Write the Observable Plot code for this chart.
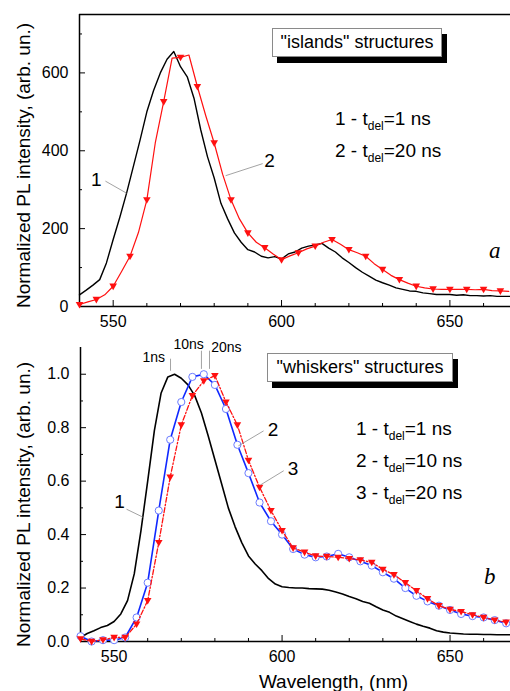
<!DOCTYPE html>
<html><head><meta charset="utf-8">
<script src="https://cdn.jsdelivr.net/npm/d3@7"></script>
<script src="https://cdn.jsdelivr.net/npm/@observablehq/plot@0.6"></script>
<style>
body{margin:0;background:#fff;font-family:"Liberation Sans",Arial,Helvetica,sans-serif;color:#000;}
#wrap{position:relative;width:510px;height:691px;overflow:hidden;background:#fff;}
#wrap svg{display:block;overflow:visible;}
.box{position:absolute;background:#fff;border:1px solid #8a8a8a;box-shadow:5px 6px 0 #000;font-size:18px;text-align:center;box-sizing:border-box;white-space:nowrap;}
.leg{position:absolute;font-size:19px;line-height:30px;white-space:nowrap;}
.leg .sb{font-size:12px;position:relative;top:5px;}
</style></head><body><div id="wrap"><div id="pa"></div><div id="pb"></div></div>
<script>
// ---------- panel a: "islands" ----------
const wlA1 = [540,542,544,546,548,550,552,554,556,558,560,562,564,566,568,570,572,574,576,578,580,582,584,586,588,590,592,594,596,598,600,602,604,606,608,610,612,614,616,618,620,622,624,626,628,630,632,634,636,638,640,642,644,646,648,650,652,654,656,658,660,662,664,666,668];
const intA1 = [30,42,55,69,112,172,230,292,360,428,500,555,600,635,655,616,590,535,454,385,330,265,225,189,165,146,140,129,125,128,122,135,140,150,155,158,162,150,140,125,113,100,88,78,68,61,55,48,44,40,39,35,33,31,31,31,29,30,28,28,27,28,26,26,26];
const wlA2 = [540,542.5,545,547.5,550,552.5,555,557.5,560,562.5,565,567.5,570,572.5,575,577.5,580,582.5,585,587.5,590,592.5,595,597.5,600,602.5,605,607.5,610,612.5,615,617.5,620,622.5,625,627.5,630,632.5,635,637.5,640,642.5,645,647.5,650,652.5,655,657.5,660,662.5,665,667.5];
const intA2 = [5,12,18,30,52,90,129,190,274,420,526,638,640,646,565,490,420,340,274,225,189,165,151,135,120,130,138,148,155,165,172,160,146,138,129,110,95,80,69,60,52,48,45,44,44,44,44,43,44,41,40,39];

// ---------- panel b: "whiskers" ----------
const wlB1 = [540,542,544,546,548,550,552,554,556,558,560,562,564,566,568,570,572,574,576,578,580,582,584,586,588,590,592,594,596,598,600,602,604,606,608,610,612,614,616,618,620,622,624,626,628,630,632,634,636,638,640,642,644,646,648,650,652,654,656,658,660,662,664,666,668];
const intB1 = [0.015,0.03,0.04,0.052,0.06,0.075,0.103,0.153,0.253,0.415,0.6,0.79,0.93,0.99,1.0,0.985,0.96,0.92,0.855,0.77,0.68,0.59,0.5,0.43,0.37,0.32,0.29,0.265,0.235,0.215,0.205,0.202,0.2,0.2,0.198,0.197,0.196,0.192,0.185,0.178,0.168,0.16,0.15,0.143,0.13,0.118,0.109,0.095,0.085,0.075,0.065,0.057,0.05,0.04,0.035,0.032,0.03,0.028,0.027,0.027,0.026,0.026,0.025,0.025,0.025];
const wlB23 = [540,543.3,546.7,550,553.3,556.7,560,563.3,566.7,570,573.3,576.7,580,583.3,586.7,590,593.3,596.7,600,603.3,606.7,610,613.3,616.7,620,623.3,626.7,630,633.3,636.7,640,643.3,646.7,650,653.3,656.7,660,663.3,666.7];
const intB2 = [0.02,0.0,0.005,0.005,0.015,0.09,0.22,0.49,0.755,0.896,0.99,1.0,0.96,0.87,0.736,0.63,0.52,0.45,0.40,0.346,0.325,0.315,0.318,0.328,0.315,0.30,0.284,0.259,0.235,0.2,0.171,0.15,0.134,0.118,0.103,0.095,0.09,0.08,0.068];
const intB3 = [0.01,0.0,0.006,0.015,0.015,0.065,0.153,0.37,0.615,0.81,0.92,0.975,0.995,0.896,0.81,0.678,0.577,0.49,0.415,0.35,0.334,0.32,0.318,0.315,0.31,0.305,0.296,0.27,0.25,0.22,0.19,0.16,0.134,0.12,0.112,0.1,0.09,0.08,0.072];

// ---------- ticks & texts ----------
const xDomain = [540, 668];
const xMajor = [550, 600, 650];
const xMinor = [560, 570, 580, 590, 610, 620, 630, 640, 660];
const yDomainA = [0, 750];
const yMajorA = [0, 200, 400, 600];
const yMinorA = [100, 300, 500, 700];
const yDomainB = [0, 1.1];
const yMajorB = [0, 0.2, 0.4, 0.6, 0.8, 1.0];
const yMinorB = [0.1, 0.3, 0.5, 0.7, 0.9];
const yTitle = "Normalized PL intensity, (arb. un.)";
const xTitle = "Wavelength, (nm)";
const titleA = '"islands" structures';
const titleB = '"whiskers" structures';
const legendA = [["1", "1 ns"], ["2", "20 ns"]];
const legendB = [["1", "1 ns"], ["2", "10 ns"], ["3", "20 ns"]];
const panelA = "a", panelB = "b";

// annotation anchors (data units)
const curveLabA = [{x: 545, y: 326, t: "1"}, {x: 596.4, y: 375, t: "2"}];
const leaderA = [{x1: 547.7, y1: 322, x2: 554, y2: 291}, {x1: 583.4, y1: 336, x2: 594.4, y2: 367}];
const curveLabB = [{x: 551.6, y: 0.523, t: "1"}, {x: 597.3, y: 0.792, t: "2"}, {x: 603.3, y: 0.646, t: "3"}];
const leaderB = [{x1: 553.7, y1: 0.495, x2: 558.8, y2: 0.464}, {x1: 587, y1: 0.732, x2: 594.5, y2: 0.788}, {x1: 600.5, y1: 0.639, x2: 593.6, y2: 0.586}];
const peakLab = [{x: 561.8, y: 1.062, t: "1ns"}, {x: 572.2, y: 1.113, t: "10ns"}, {x: 583.4, y: 1.10, t: "20ns"}];
const peakLeader = [{x1: 566.8, y1: 1.013, x2: 566.8, y2: 1.058}, {x1: 576.0, y1: 1.02, x2: 576.0, y2: 1.088}, {x1: 578.4, y1: 1.02, x2: 578.4, y2: 1.088}];
const panelLabA = [{x: 663.3, y: 144, t: panelA}];
const panelLabB = [{x: 661.8, y: 0.242, t: panelB}];

const zip = (xs, ys) => xs.map((x, i) => ({x, y: ys[i]}));
const a1 = zip(wlA1, intA1), a2 = zip(wlA2, intA2);
const b1 = zip(wlB1, intB1), b2 = zip(wlB23, intB2), b3 = zip(wlB23, intB3);

const font = "'Liberation Sans', Arial, Helvetica, sans-serif";
const RED = "#ff1010", BLUE = "#1028ff", CIRC = "#6b7cff", GRAY = "#8c8c8c";
const triDown = {draw(ctx, size) { const s = Math.sqrt(size / Math.PI); const w = 1.15 * s; ctx.moveTo(-w, -0.8 * s); ctx.lineTo(w, -0.8 * s); ctx.lineTo(0, 1.2 * s); ctx.closePath(); }};

function frameMarks(yMajor, yMinor, yFmt, yTop, withTop) {
  const m = [
    Plot.axisX(xMinor, {tickSize: -3, tickFormat: () => "", label: null}),
    Plot.axisX(xMajor, {tickSize: -6, tickPadding: 15, tickFormat: d => String(d), label: null, fontSize: 16}),
    Plot.axisY(yMinor, {tickSize: -3, tickFormat: () => "", label: null}),
    Plot.axisY(yMajor, {tickSize: -6, tickPadding: 17, tickFormat: yFmt, label: null, fontSize: 16}),
    Plot.ruleX([xDomain[0]], {strokeWidth: 1.5}),
    Plot.ruleY([0], {strokeWidth: 1.5})
  ];
  if (withTop) m.push(Plot.ruleY([yTop], {strokeWidth: 1.5}));
  return m;
}

const plotA = Plot.plot({
  width: 510, height: 335, marginTop: 14, marginBottom: 29, marginLeft: 79, marginRight: 0,
  x: {domain: xDomain, label: null}, y: {domain: yDomainA, label: null},
  style: {fontFamily: font, fontSize: "16px", color: "#000", background: "transparent", overflow: "visible"},
  marks: [
    ...frameMarks(yMajorA, yMinorA, d => String(d), yDomainA[1], true),
    Plot.line(a1, {x: "x", y: "y", stroke: "#000", strokeWidth: 1.4}),
    Plot.line(a2, {x: "x", y: "y", stroke: RED, strokeWidth: 1.2}),
    Plot.dot(a2.filter((d, i) => i % 2 === 0), {x: "x", y: "y", symbol: triDown, r: 3.3, fill: RED, stroke: "none"}),
    Plot.link(leaderA, {x1: "x1", y1: "y1", x2: "x2", y2: "y2", stroke: GRAY, strokeWidth: 0.8}),
    Plot.text(curveLabA, {x: "x", y: "y", text: "t", fontSize: 19}),
    Plot.text(panelLabA, {x: "x", y: "y", text: "t", fontSize: 23, fontStyle: "italic", fontFamily: "'Liberation Serif', 'Times New Roman', serif"}),
    Plot.text([yTitle], {frameAnchor: "left", text: d => d, rotate: -90, textAnchor: "middle", lineAnchor: "middle", dx: -56, dy: 5, fontSize: 19})
  ]
});

const plotB = Plot.plot({
  width: 510, height: 356, marginTop: 12, marginBottom: 50, marginLeft: 80, marginRight: 0,
  x: {domain: xDomain, label: null}, y: {domain: yDomainB, label: null},
  style: {fontFamily: font, fontSize: "16px", color: "#000", background: "transparent", overflow: "visible"},
  marks: [
    ...frameMarks(yMajorB, yMinorB, d => d.toFixed(1), yDomainB[1], false),
    Plot.line(b1, {x: "x", y: "y", stroke: "#000", strokeWidth: 1.6}),
    Plot.line(b2, {x: "x", y: "y", stroke: BLUE, strokeWidth: 1.6}),
    Plot.dot(b2, {x: "x", y: "y", r: 3.6, stroke: CIRC, fill: "#fff", strokeWidth: 1}),
    Plot.line(b3, {x: "x", y: "y", stroke: RED, strokeWidth: 1.3, strokeDasharray: "5,2,1.5,2"}),
    Plot.dot(b3, {x: "x", y: "y", symbol: triDown, r: 3.3, fill: RED, stroke: "none"}),
    Plot.link(leaderB, {x1: "x1", y1: "y1", x2: "x2", y2: "y2", stroke: GRAY, strokeWidth: 0.8}),
    Plot.link(peakLeader, {x1: "x1", y1: "y1", x2: "x2", y2: "y2", stroke: GRAY, strokeWidth: 0.8}),
    Plot.text(curveLabB, {x: "x", y: "y", text: "t", fontSize: 19}),
    Plot.text(peakLab, {x: "x", y: "y", text: "t", fontSize: 14}),
    Plot.text(panelLabB, {x: "x", y: "y", text: "t", fontSize: 23, fontStyle: "italic", fontFamily: "'Liberation Serif', 'Times New Roman', serif"}),
    Plot.text([yTitle], {frameAnchor: "left", text: d => d, rotate: -90, textAnchor: "middle", lineAnchor: "middle", dx: -57, dy: 10, fontSize: 19}),
    Plot.text([xTitle], {frameAnchor: "bottom", text: d => d, textAnchor: "middle", lineAnchor: "middle", dx: 38, dy: 40, fontSize: 19})
  ]
});

document.getElementById("pa").appendChild(plotA);
document.getElementById("pb").appendChild(plotB);

// boxed titles and legends (overlays)
const wrap = document.getElementById("wrap");
function addBox(text, left, top, w, h) {
  const d = document.createElement("div");
  d.className = "box";
  Object.assign(d.style, {left: left + "px", top: top + "px", width: w + "px", height: h + "px", lineHeight: (h - 2) + "px"});
  d.textContent = text;
  wrap.appendChild(d);
}
function addLegend(items, left, top) {
  const d = document.createElement("div");
  d.className = "leg";
  Object.assign(d.style, {left: left + "px", top: top + "px"});
  d.innerHTML = items.map(([n, v]) => `${n} - t<span class="sb">del</span>=${v}`).join("<br>");
  wrap.appendChild(d);
}
addBox(titleA, 272, 28, 170, 29);
addBox(titleB, 267, 353, 186, 29);
addLegend(legendA, 335, 104);
addLegend(legendB, 356, 414);
</script></body></html>
